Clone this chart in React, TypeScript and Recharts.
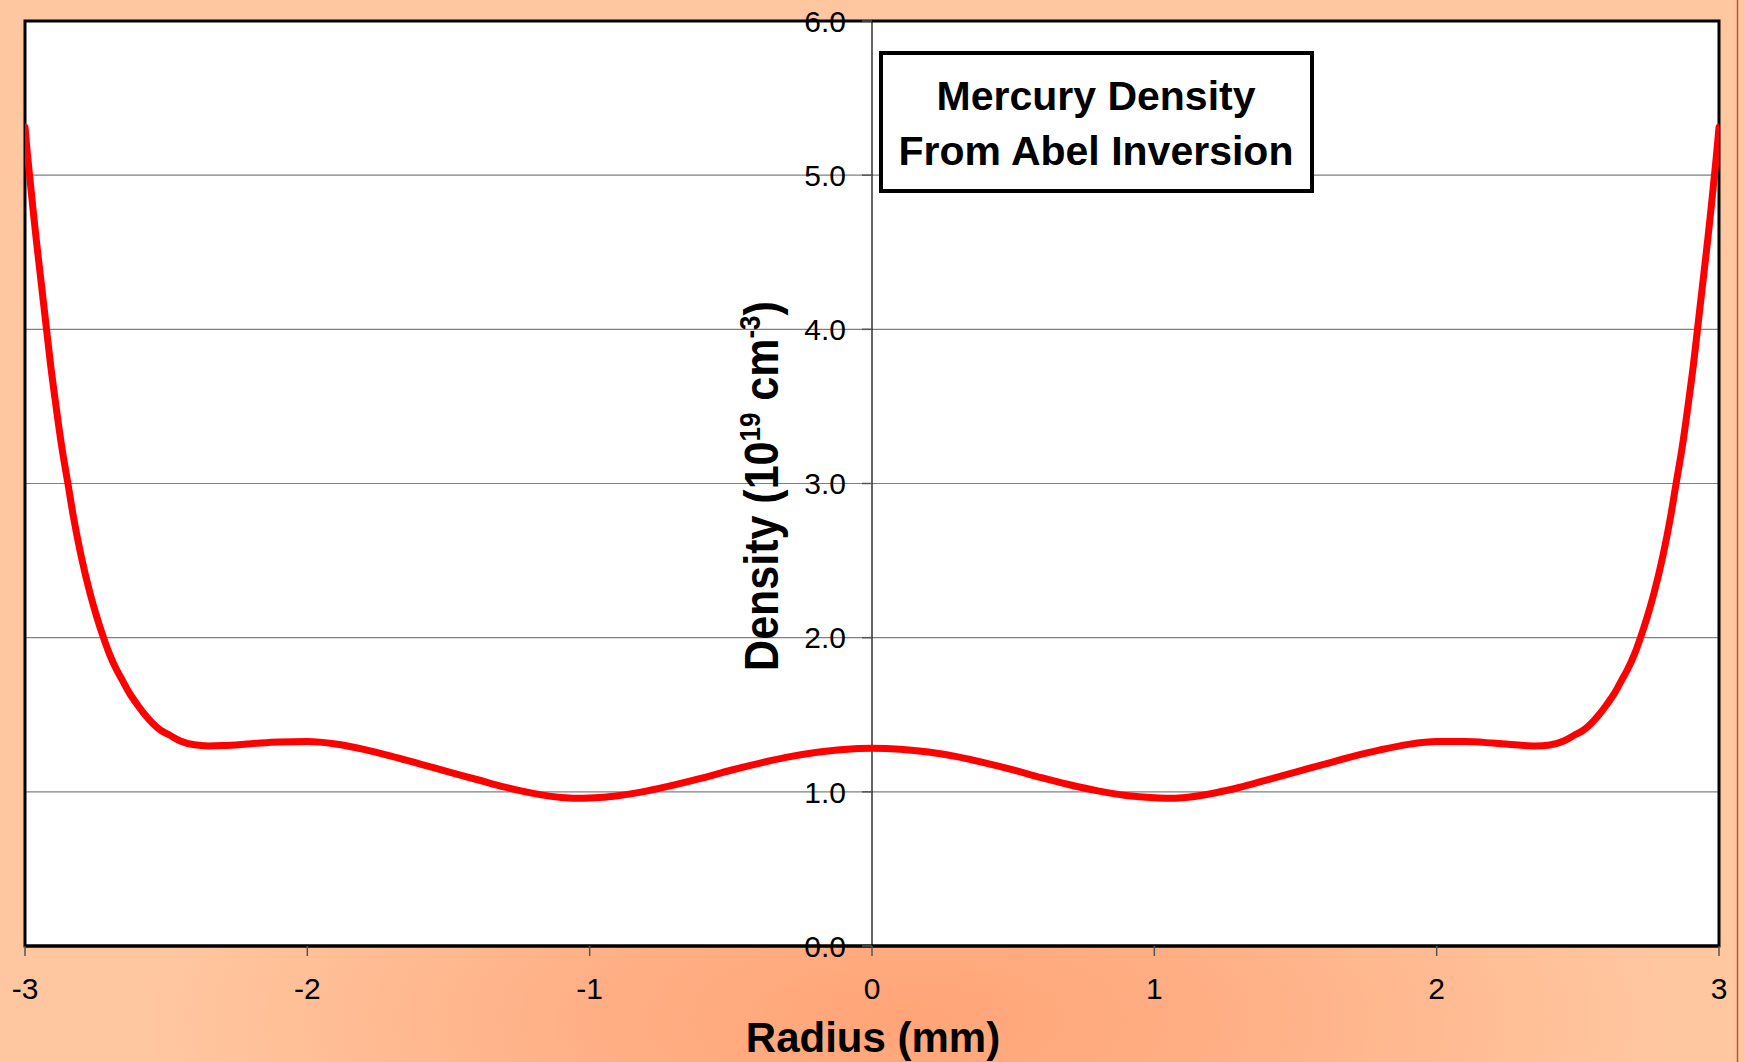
import { LineChart, Line, XAxis, YAxis, CartesianGrid, ReferenceLine, ReferenceArea, ReferenceDot } from 'recharts'

// radius in mm, density in 1e19 cm^-3
const radius = [
  -3.0, -2.99, -2.98, -2.97, -2.96, -2.95, -2.94, -2.925, -2.91, -2.89, -2.87, -2.848, -2.83, -2.8, -2.77, -2.745,
  -2.722, -2.7, -2.675, -2.654, -2.63, -2.6, -2.575, -2.548, -2.52, -2.49, -2.45, -2.4, -2.35, -2.3,
  -2.2, -2.1, -2.0, -1.9, -1.8, -1.7, -1.6, -1.5, -1.4, -1.3, -1.2, -1.1, -1.05, -1.0, -0.9, -0.8, -0.7, -0.6,
  -0.5, -0.4, -0.3, -0.2, -0.1, 0.0, 0.1, 0.2, 0.3, 0.4, 0.5, 0.6, 0.7, 0.8, 0.9, 1.0, 1.05, 1.1, 1.2, 1.3, 1.4,
  1.5, 1.6, 1.7, 1.8, 1.9, 2.0, 2.1, 2.2, 2.3, 2.35, 2.4, 2.45, 2.49, 2.52, 2.548, 2.575, 2.6, 2.63, 2.654,
  2.675, 2.7, 2.722, 2.745, 2.77, 2.8, 2.83, 2.848, 2.87, 2.89, 2.91, 2.925, 2.94, 2.95, 2.96, 2.97, 2.98, 2.99, 3.0,
]
const density = [
  5.31, 5.11, 4.93, 4.75, 4.58, 4.42, 4.26, 4.02, 3.78, 3.5, 3.24, 3.0, 2.8, 2.52, 2.29, 2.13,
  2.0, 1.89, 1.79, 1.72, 1.64, 1.56, 1.5, 1.445, 1.4, 1.37, 1.33, 1.305, 1.298, 1.3,
  1.312, 1.324, 1.326, 1.31, 1.275, 1.23, 1.18, 1.13, 1.08, 1.03, 0.99, 0.963, 0.958, 0.96, 0.975, 1.005, 1.045, 1.09,
  1.14, 1.185, 1.225, 1.255, 1.275, 1.282, 1.276, 1.258, 1.228, 1.188, 1.142, 1.092, 1.046, 1.006, 0.976, 0.961, 0.958, 0.962, 0.988, 1.028, 1.078,
  1.128, 1.178, 1.228, 1.272, 1.308, 1.326, 1.326, 1.316, 1.302, 1.298, 1.304, 1.33, 1.37, 1.4, 1.445, 1.5, 1.56, 1.64, 1.72,
  1.79, 1.89, 2.0, 2.13, 2.29, 2.52, 2.8, 3.0, 3.24, 3.5, 3.78, 4.02, 4.26, 4.42, 4.58, 4.75, 4.93, 5.11, 5.31,
]
const xTicks = [-3, -2, -1, 0, 1, 2, 3]
const yTicks = [0, 1, 2, 3, 4, 5, 6]

const data = radius.map((r, i) => ({ r, d: density[i] }))

const W = 1745
const H = 1062
const FONT = '"Liberation Sans", Arial, sans-serif'

// tick mark + label drawn to the left of the centre (x = 0) axis
const YTick = (props: any) => {
  const { cx, cy, value } = props
  return (
    <g>
      <line x1={cx - 10} y1={cy} x2={cx} y2={cy} stroke="#555" strokeWidth={1.5} />
      <text x={cx - 26} y={cy} dy="0.36em" textAnchor="end" fontFamily={FONT} fontSize={30} fill="#000">
        {value.toFixed(1)}
      </text>
    </g>
  )
}

export default function App() {
  return (
    <div
      style={{
        position: 'absolute',
        left: 0,
        top: 0,
        width: W,
        height: H,
        overflow: 'hidden',
        background:
          'radial-gradient(ellipse 760px 300px at 52% 96%, #ffa578 0%, #ffae84 40%, #ffc7a0 100%)',
      }}
    >
      <LineChart width={W} height={H} data={data} margin={{ top: 21, right: 26, bottom: 56, left: 25 }}>
        <CartesianGrid vertical={false} stroke="#808080" strokeWidth={1.2} fill="#fff" />
        <XAxis
          type="number"
          dataKey="r"
          domain={[-3, 3]}
          ticks={xTicks}
          height={60}
          tickSize={10}
          tickMargin={22}
          axisLine={{ stroke: '#000', strokeWidth: 3 }}
          tickLine={{ stroke: '#555', strokeWidth: 1.5 }}
          tick={{ fontFamily: FONT, fontSize: 30, fill: '#000' }}
          allowDataOverflow
        />
        <YAxis hide type="number" domain={[0, 6]} ticks={yTicks} />
        <ReferenceLine x={0} stroke="#000" strokeWidth={1.2} />
        <ReferenceArea x1={-3} x2={3} y1={0} y2={6} fill="none" stroke="#000" strokeWidth={3} ifOverflow="visible" />
        <Line
          type="monotone"
          dataKey="d"
          stroke="#ff0000"
          strokeWidth={7}
          strokeLinecap="round"
          strokeLinejoin="round"
          dot={false}
          isAnimationActive={false}
        />
        {yTicks.map((t) => (
          <ReferenceDot key={t} x={0} y={t} r={0} ifOverflow="visible" shape={(p: any) => <YTick {...p} value={t} />} />
        ))}
      </LineChart>

      <svg width={W} height={H} style={{ position: 'absolute', left: 0, top: 0, pointerEvents: 'none' }}>
        <line x1={1737.5} y1={0} x2={1737.5} y2={H} stroke="#b0602e" strokeWidth={1.5} />

        <rect x={881} y={53} width={431} height={138} fill="#fff" stroke="#000" strokeWidth={4} />
        <g fontFamily={FONT} fontWeight="bold" fontSize={41} fill="#000" textAnchor="middle">
          <text x={1096} y={110}>Mercury Density</text>
          <text x={1096} y={165}>From Abel Inversion</text>
        </g>

        <text x={873} y={1052} textAnchor="middle" fontFamily={FONT} fontWeight="bold" fontSize={42} fill="#000">
          Radius (mm)
        </text>

        <text
          transform="translate(778,486) rotate(-90) scale(1,1.12)"
          textAnchor="middle"
          fontFamily={FONT}
          fontWeight="bold"
          fontSize={43}
          fill="#000"
        >
          Density (10
          <tspan dy={-16} fontSize={26}>19</tspan>
          <tspan dy={16}> cm</tspan>
          <tspan dy={-16} fontSize={26}>-3</tspan>
          <tspan dy={16}>)</tspan>
        </text>
      </svg>
    </div>
  )
}
